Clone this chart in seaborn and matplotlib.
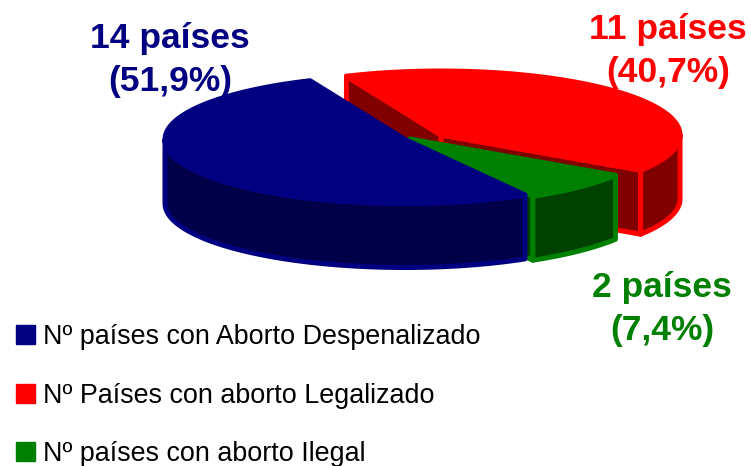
import numpy as np
import matplotlib
matplotlib.use('Agg')
import matplotlib.pyplot as plt
from matplotlib.patches import Patch
import seaborn as sns

# Data
categorias = ['Nº países con Aborto Despenalizado', 'Nº Países con aborto Legalizado', 'Nº países con aborto Ilegal']
paises = [14, 11, 2]
etiquetas = ['14 países\n(51,9%)', '11 países\n(40,7%)', '2 países\n(7,4%)']
colores = ['#000080', '#FF0000', '#008000']
oscuros = ['#000048', '#800000', '#004000']

sns.set_theme(style='white')
plt.rcParams['font.family'] = ['Liberation Sans', 'DejaVu Sans']

fig = plt.figure(figsize=(7.51, 4.66), dpi=100)
ax = fig.add_axes([0, 0, 1, 1])
ax.set_xlim(0, 751)
ax.set_ylim(466, 0)
ax.axis('off')

LW = 3.6
DEPTH = 64
START = 113.3

# the slices run counter clockwise from START
angulos = START + np.cumsum([0] + paises) / sum(paises) * 360
# centre x, centre y, rx, ry of every slice (exploded a little)
geom = [(405, 139.5, 240, 64), (441, 135, 239, 64), (410, 139, 246, 66)]


def rim(g, t1, t2):
    t = np.radians(np.linspace(t1, t2, 80))
    return g[0] + g[2] * np.cos(t), g[1] - g[3] * np.sin(t)


def shape(x, y, fc, ec):
    ax.fill(x, y, facecolor=fc, edgecolor=ec, linewidth=LW, joinstyle='round')


def wall(g, t1, t2, fc, ec):
    # outer wall of the slice
    x, y = rim(g, t1, t2)
    shape(np.r_[x, x[::-1]], np.r_[y, y[::-1] + DEPTH], fc, ec)


def cut(g, t, fc, ec):
    # flat wall from the centre to the rim
    x, y = rim(g, t, t)
    xs = [g[0], x[0], x[0], g[0]]
    ys = [g[1], y[0], y[0] + DEPTH, g[1] + DEPTH]
    shape(xs, ys, fc, ec)


def top(g, t1, t2, fc, ec):
    x, y = rim(g, t1, t2)
    shape(np.r_[g[0], x], np.r_[g[1], y], fc, ec)


# red goes first, then green, blue stays in front
a_azul, a_verde, a_rojo = (angulos[0], angulos[1]), (angulos[1], angulos[1] + angulos[3] - angulos[2]), (angulos[1] + angulos[3] - angulos[2], angulos[0] + 360)

cut(geom[1], a_rojo[0], oscuros[1], colores[1])
cut(geom[1], a_rojo[1], oscuros[1], colores[1])
wall(geom[1], a_rojo[0], 360, oscuros[1], colores[1])
top(geom[1], a_rojo[0], a_rojo[1], colores[1], colores[1])

cut(geom[2], a_verde[0], oscuros[2], colores[2])
wall(geom[2], a_verde[0], a_verde[1], oscuros[2], colores[2])
top(geom[2], a_verde[0], a_verde[1], colores[2], colores[2])

wall(geom[0], 180, a_azul[1], oscuros[0], colores[0])
top(geom[0], a_azul[0], a_azul[1], colores[0], colores[0])

# Labels
pos_txt = [(170, 60), (668, 51), (662, 309)]
for (px, py), txt, c in zip(pos_txt, etiquetas, colores):
    ax.text(px, py, txt, color=c, fontsize=25.5, fontweight='bold', ha='center', va='center', linespacing=1.38)

handles = [Patch(facecolor=c, edgecolor=c, label=l) for c, l in zip(colores, categorias)]
ax.legend(handles=handles, loc='lower left', bbox_to_anchor=(16 / 751, -0.002), frameon=False, fontsize=19.4,
          handlelength=0.72, handleheight=0.72, handletextpad=0.3, labelspacing=1.2, labelcolor='black',
          borderpad=0, borderaxespad=0)

plt.savefig('out.png', dpi=100)
